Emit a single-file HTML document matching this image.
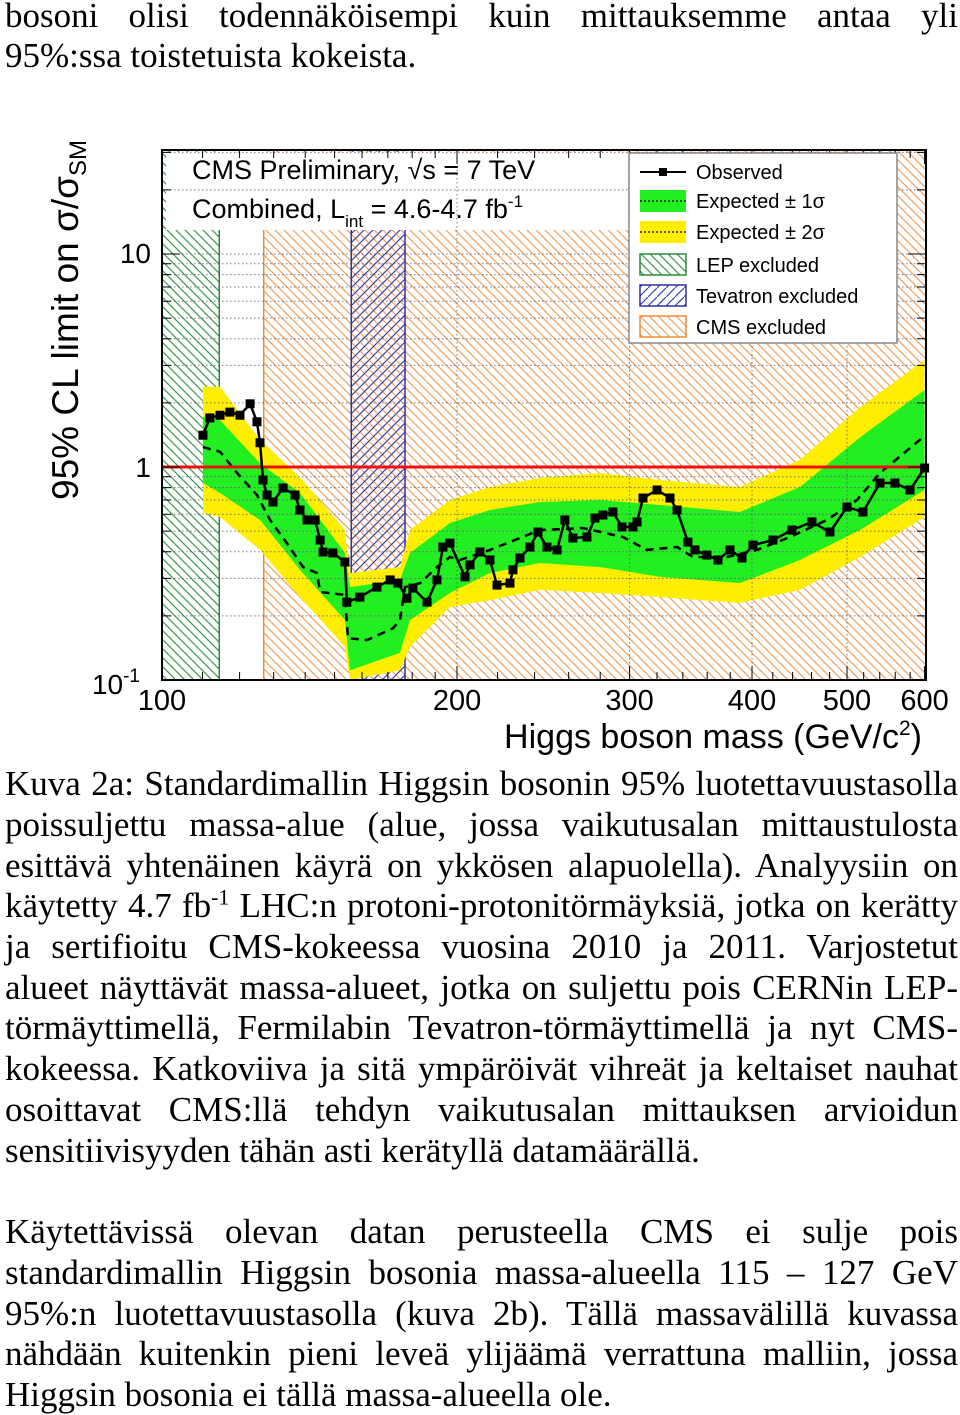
<!DOCTYPE html>
<html><head><meta charset="utf-8">
<style>
body{margin:0;width:960px;height:1415px;background:#fff;position:relative;overflow:hidden}
.t{position:absolute;left:5px;width:953px;font-family:"Liberation Serif",serif;font-size:35px;line-height:40px;white-space:nowrap;color:#000}
.j{text-align:justify;text-align-last:justify;white-space:normal}
svg text{font-family:"Liberation Sans",sans-serif}
</style></head><body>
<div class="t j" style="top:-4px">bosoni olisi todennäköisempi kuin mittauksemme antaa yli</div>
<div class="t" style="top:36px">95%:ssa toistetuista kokeista.</div>

<svg id="chart" width="960" height="760" style="position:absolute;left:0;top:0">
<defs>
<pattern id="hg" patternUnits="userSpaceOnUse" width="9" height="9"><path d="M-1,-1 L10,10 M-1,8 L1,10 M8,-1 L10,1" stroke="#3a9a4a" stroke-width="1.2"/></pattern>
<pattern id="ho" patternUnits="userSpaceOnUse" width="9" height="9"><path d="M-1,-1 L10,10 M-1,8 L1,10 M8,-1 L10,1" stroke="#f0a060" stroke-width="1.2"/></pattern>
<pattern id="hb" patternUnits="userSpaceOnUse" width="9" height="9"><path d="M10,-1 L-1,10 M1,8 L-1,10 M10,1 L8,-1" stroke="#4040b0" stroke-width="1.2"/></pattern>
</defs>
<g id="plot"></g>
</svg>

<div class="t j" style="top:764px">Kuva 2a: Standardimallin Higgsin bosonin 95% luotettavuustasolla</div>
<div class="t j" style="top:805px">poissuljettu massa-alue (alue, jossa vaikutusalan mittaustulosta</div>
<div class="t j" style="top:846px">esittävä yhtenäinen käyrä on ykkösen alapuolella). Analyysiin on</div>
<div class="t j" style="top:886px">käytetty 4.7 fb<sup style="font-size:22px;line-height:0">-1</sup> LHC:n protoni-protonitörmäyksiä, jotka on kerätty</div>
<div class="t j" style="top:927px">ja sertifioitu CMS-kokeessa vuosina 2010 ja 2011. Varjostetut</div>
<div class="t j" style="top:968px">alueet näyttävät massa-alueet, jotka on suljettu pois CERNin LEP-</div>
<div class="t j" style="top:1008px">törmäyttimellä, Fermilabin Tevatron-törmäyttimellä ja nyt CMS-</div>
<div class="t j" style="top:1049px">kokeessa. Katkoviiva ja sitä ympäröivät vihreät ja keltaiset nauhat</div>
<div class="t j" style="top:1090px">osoittavat CMS:llä tehdyn vaikutusalan mittauksen arvioidun</div>
<div class="t" style="top:1131px">sensitiivisyyden tähän asti kerätyllä datamäärällä.</div>
<div class="t j" style="top:1212px">Käytettävissä olevan datan perusteella CMS ei sulje pois</div>
<div class="t j" style="top:1253px">standardimallin Higgsin bosonia massa-alueella 115 – 127 GeV</div>
<div class="t j" style="top:1294px">95%:n luotettavuustasolla (kuva 2b). Tällä massavälillä kuvassa</div>
<div class="t j" style="top:1334px">nähdään kuitenkin pieni leveä ylijäämä verrattuna malliin, jossa</div>
<div class="t" style="top:1375px">Higgsin bosonia ei tällä massa-alueella ole.</div>

<script>
const obsMass=[110.1,111.9,114.6,117.3,120.1,123.0,125.0,125.9,126.8,128.0,129.8,132.9,136.7,138.3,140.6,143.3,145.0,146.0,149.4,153.7,154.4,159.2,165.7,170.9,174.1,177.8,180.3,186.4,190.8,193.5,196.7,203.8,206.2,211.1,216.1,219.7,226.5,228.1,231.9,237.4,241.9,247.1,253.0,257.7,262.6,271.4,276.6,281.8,288.5,294.7,302.4,305.3,309.6,320.0,329.9,335.4,344.1,349.8,359.8,369.3,379.8,390.7,400.9,420.2,439.4,460.5,480.4,500.0,519.1,540.3,559.6,579.8,600];
const obsVal=[1.41,1.70,1.75,1.81,1.75,1.98,1.63,1.30,0.869,0.739,0.685,0.797,0.739,0.628,0.564,0.564,0.454,0.399,0.395,0.358,0.232,0.245,0.273,0.295,0.285,0.242,0.270,0.232,0.295,0.421,0.439,0.305,0.347,0.399,0.366,0.279,0.285,0.329,0.374,0.421,0.495,0.421,0.408,0.564,0.464,0.469,0.576,0.595,0.615,0.523,0.523,0.552,0.715,0.780,0.715,0.628,0.444,0.408,0.386,0.366,0.408,0.374,0.430,0.454,0.506,0.552,0.495,0.649,0.615,0.841,0.841,0.780,0.989];
const expMass=[110.1,114.6,119.3,125.0,128.9,134.1,139.3,143.9,145.0,153.7,154.8,161.9,172.1,174.9,177.0,183.4,190.8,196.7,201.4,216.1,243.1,268.9,295.4,312.5,335.4,348.2,377.1,404.7,437.3,477.0,511.9,540.3,597.8];
const expVal=[1.24,1.18,0.937,0.739,0.564,0.439,0.339,0.318,0.259,0.251,0.157,0.154,0.175,0.191,0.273,0.285,0.339,0.378,0.366,0.408,0.506,0.517,0.469,0.408,0.421,0.378,0.378,0.408,0.469,0.564,0.700,0.937,1.38];
const bandMass=[110.1,114.6,125.9,138.3,153.7,155.5,174.9,179.1,196.7,216.1,243.1,279.9,322.2,388.8,447.7,515.6,600];
const up2=[2.38,2.38,1.34,0.897,0.506,0.318,0.339,0.506,0.700,0.806,0.888,0.937,0.869,0.806,1.08,1.91,3.18];
const up1=[1.72,1.66,1.04,0.755,0.395,0.273,0.295,0.395,0.546,0.628,0.685,0.700,0.663,0.615,0.806,1.38,2.30];
const dn1=[0.841,0.755,0.564,0.329,0.191,0.111,0.134,0.191,0.256,0.318,0.354,0.339,0.305,0.285,0.366,0.506,0.780];
const dn2=[0.609,0.582,0.408,0.245,0.143,0.100,0.111,0.143,0.220,0.237,0.265,0.256,0.245,0.230,0.265,0.378,0.582];
const xTickVals=[100,200,300,400,500,600];
const xTickLabels=["100","200","300","400","500","600"];

const X0=162,X1=926,Y0=150,Y1=680;
const xs=m=>X0+980*Math.log10(m/100);
const ys=v=>467-213*Math.log10(v);
const NS="http://www.w3.org/2000/svg";
const g=document.getElementById('plot');
function mk(tag,attrs,parent){const e=document.createElementNS(NS,tag);for(const k in attrs)e.setAttribute(k,attrs[k]);(parent||g).appendChild(e);return e;}
const cl=v=>Math.max(Y0,Math.min(Y1,v));

let r=mk('rect',{x:X0,y:Y0,width:xs(114.4)-X0,height:Y1-Y0,fill:'url(#hg)'});


r=mk('rect',{x:xs(127),y:Y0,width:X1-xs(127),height:Y1-Y0,fill:'url(#ho)'});


r=mk('rect',{x:xs(156),y:Y0,width:xs(177)-xs(156),height:Y1-Y0,fill:'url(#hb)'});


r=mk('rect',{x:166,y:152,width:462,height:78,fill:'#fff'});


mk('line',{x1:xs(114.4),y1:230,x2:xs(114.4),y2:Y1,stroke:'#2a8a3a','stroke-width':1.5});
mk('line',{x1:xs(127),y1:230,x2:xs(127),y2:Y1,stroke:'#f08a30','stroke-width':1.5});
mk('line',{x1:xs(156),y1:230,x2:xs(156),y2:Y1,stroke:'#3030a0','stroke-width':1.5});
mk('line',{x1:xs(177),y1:230,x2:xs(177),y2:Y1,stroke:'#3030a0','stroke-width':1.5});

function bandPath(a,b){let p='';bandMass.forEach((m,i)=>{p+=(i?'L':'M')+xs(m)+','+cl(ys(a[i]));});for(let i=bandMass.length-1;i>=0;i--)p+='L'+xs(bandMass[i])+','+cl(ys(b[i]));return p+'Z';}
let b=mk('path',{d:bandPath(up2,dn2),fill:'#ffee00'});


b=mk('path',{d:bandPath(up1,dn1),fill:'#22ee22'});



const gy=[];for(let d=-1;d<=1;d++)for(let k=1;k<=9;k++)gy.push(k*Math.pow(10,d));
gy.forEach(v=>{const y=ys(v);if(y>Y0&&y<Y1){const l=mk('line',{x1:X0,y1:y,x2:X1,y2:y,stroke:'#556',"stroke-width":1,"stroke-dasharray":'1.5,2.5',opacity:0.8});

}});
[200,300,400,500].forEach(m=>{const l=mk('line',{x1:xs(m),y1:Y0,x2:xs(m),y2:Y1,stroke:'#556',"stroke-width":1,"stroke-dasharray":'1.5,2.5',opacity:0.8});

});

let e=mk('polyline',{points:expMass.map((m,i)=>xs(m)+','+ys(expVal[i])).join(' '),fill:'none',stroke:'#000','stroke-width':2.5,'stroke-dasharray':'8,6'});


e=mk('line',{x1:X0,y1:ys(1),x2:X1,y2:ys(1),stroke:'#ee1111','stroke-width':3});


e=mk('polyline',{points:obsMass.map((m,i)=>xs(m)+','+ys(obsVal[i])).join(' '),fill:'none',stroke:'#000','stroke-width':2.5});


obsMass.forEach((m,i)=>{const s=mk('rect',{x:xs(m)-4.5,y:ys(obsVal[i])-4.5,width:9,height:9,fill:'#000'});

});

e=mk('rect',{x:X0,y:Y0,width:X1-X0,height:Y1-Y0,fill:'none',stroke:'#000','stroke-width':2});


for(let m=100;m<=600;m+=(m<200?10:20)){const x=xs(m);const major=m%100===0;mk('line',{x1:x,y1:Y1,x2:x,y2:Y1-(major?14:8),stroke:'#000','stroke-width':1});mk('line',{x1:x,y1:Y0,x2:x,y2:Y0+(major?14:8),stroke:'#000','stroke-width':1});}
gy.forEach(v=>{const y=ys(v);if(y>=Y0&&y<=Y1){const major=[0.1,1,10].includes(v);mk('line',{x1:X0,y1:y,x2:X0+(major?18:9),y2:y,stroke:'#000','stroke-width':1});mk('line',{x1:X1,y1:y,x2:X1-(major?18:9),y2:y,stroke:'#000','stroke-width':1});}});

xTickVals.forEach((m,i)=>{const t=mk('text',{x:xs(m),y:710,'font-size':29,'text-anchor':'middle'});t.textContent=xTickLabels[i];

});
function txt(x,y,s,fs,anchor,name){const t=mk('text',{x:x,y:y,'font-size':fs,'text-anchor':anchor||'start'});t.innerHTML=s;

return t;}
txt(151,263,'10',28,'end','y-tick-10');
txt(151,477,'1',28,'end','y-tick-1');
txt(140,694,'10<tspan dy="-12" font-size="19">-1</tspan>',28,'end','y-tick-0.1');
txt(922,748,'Higgs boson mass (GeV/c<tspan dy="-13" font-size="21">2</tspan><tspan dy="13">)</tspan>',34,'end','x-axis-title');
let yt=txt(0,0,'95% CL limit on σ/σ<tspan dy="8" font-size="24">SM</tspan>',37,'middle','y-axis-title');
yt.setAttribute('transform','translate(78,320) rotate(-90)');
txt(192,179,'CMS Preliminary, √s = 7 TeV',27,'start','header-title');
txt(192,218,'Combined, L<tspan dy="9" font-size="17">int</tspan><tspan dy="-9"> = 4.6-4.7 fb</tspan><tspan dy="-11" font-size="17">-1</tspan>',27,'start','header-luminosity');

const lg=mk('g',{});


mk('rect',{x:629,y:153,width:268,height:190,fill:'#fff',stroke:'#888','stroke-width':1.5},lg);
mk('line',{x1:640,y1:172,x2:686,y2:172,stroke:'#000','stroke-width':2},lg);
mk('rect',{x:659,y:168,width:8,height:8,fill:'#000'},lg);
mk('rect',{x:640,y:190,width:46,height:22,fill:'#22ee22'},lg);
mk('line',{x1:640,y1:201,x2:686,y2:201,stroke:'#000','stroke-width':1.2,'stroke-dasharray':'2,2'},lg);
mk('rect',{x:640,y:221,width:46,height:22,fill:'#ffee00'},lg);
mk('line',{x1:640,y1:232,x2:686,y2:232,stroke:'#000','stroke-width':1.2,'stroke-dasharray':'2,2'},lg);
mk('rect',{x:640,y:254,width:46,height:21,fill:'url(#hg)',stroke:'#2a8a3a','stroke-width':1.5},lg);
mk('rect',{x:640,y:285,width:46,height:21,fill:'url(#hb)',stroke:'#3030a0','stroke-width':1.5},lg);
mk('rect',{x:640,y:316,width:46,height:21,fill:'url(#ho)',stroke:'#f08a30','stroke-width':1.5},lg);
[['Observed',179],['Expected ± 1σ',208],['Expected ± 2σ',239],['LEP excluded',272],['Tevatron excluded',303],['CMS excluded',334]].forEach(([s,y])=>{const t=mk('text',{x:696,y:y,'font-size':20},lg);t.textContent=s;

});
</script>
</body></html>
